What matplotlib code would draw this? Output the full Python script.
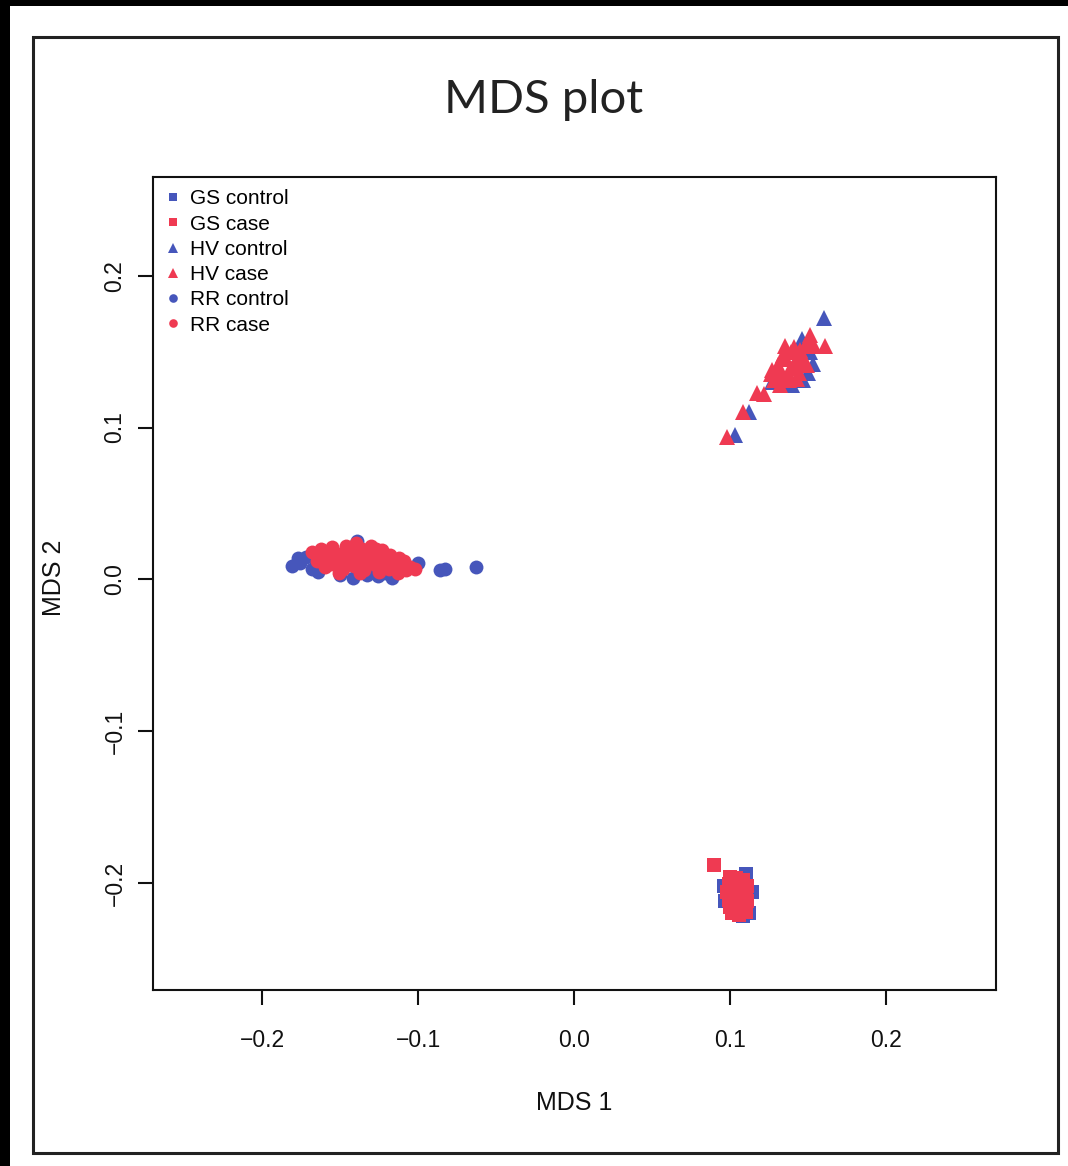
"""
MDS plot recreation (R-style base graphics look)
"""
import matplotlib
matplotlib.use('Agg')
import matplotlib.pyplot as plt
from matplotlib.patches import Rectangle

# ------------------------------ data --------------------------------------#
gs_control_x = [0.110, 0.114, 0.096, 0.108, 0.112, 0.097]
gs_control_y = [-0.194, -0.206, -0.202, -0.222, -0.220, -0.212]

gs_case_x = [0.090, 0.100, 0.104, 0.108, 0.099, 0.103, 0.107, 0.111, 0.098,
             0.102, 0.106, 0.110, 0.099, 0.103, 0.107, 0.111, 0.100, 0.104,
             0.108, 0.101, 0.106, 0.110, 0.105, 0.102]
gs_case_y = [-0.188, -0.196, -0.197, -0.198, -0.201, -0.202, -0.203, -0.202,
             -0.206, -0.207, -0.208, -0.207, -0.211, -0.212, -0.213, -0.212,
             -0.216, -0.217, -0.218, -0.220, -0.221, -0.219, -0.205, -0.214]

hv_control_x = [0.103, 0.112, 0.160, 0.151, 0.153, 0.150, 0.147, 0.140,
                0.133, 0.127, 0.146, 0.144]
hv_control_y = [0.095, 0.110, 0.172, 0.150, 0.142, 0.136, 0.131, 0.128,
                0.128, 0.130, 0.158, 0.148]

hv_case_x = [0.098, 0.108, 0.117, 0.122, 0.127, 0.131, 0.134, 0.137, 0.142,
             0.145, 0.148, 0.151, 0.154, 0.161, 0.138, 0.144, 0.135, 0.128,
             0.147, 0.141, 0.132, 0.130, 0.136, 0.140, 0.146, 0.150, 0.139,
             0.133, 0.143, 0.149, 0.126]
hv_case_y = [0.094, 0.110, 0.123, 0.122, 0.138, 0.141, 0.148, 0.136, 0.144,
             0.151, 0.154, 0.161, 0.154, 0.154, 0.131, 0.136, 0.154, 0.131,
             0.143, 0.153, 0.128, 0.136, 0.145, 0.139, 0.147, 0.156, 0.150,
             0.133, 0.132, 0.141, 0.135]

rr_control_x = [-0.181, -0.177, -0.172, -0.168, -0.164, -0.139, -0.150,
                -0.142, -0.133, -0.126, -0.121, -0.117, -0.113, -0.108,
                -0.100, -0.086, -0.083, -0.063, -0.160, -0.176]
rr_control_y = [0.009, 0.014, 0.015, 0.007, 0.005, 0.025, 0.003, 0.001,
                0.003, 0.002, 0.004, 0.001, 0.006, 0.009, 0.011, 0.006,
                0.007, 0.008, 0.017, 0.011]

rr_case_x = [-0.168, -0.165, -0.162, -0.160, -0.158, -0.155, -0.153, -0.150,
             -0.148, -0.146, -0.145, -0.143, -0.141, -0.140, -0.138, -0.136,
             -0.135, -0.133, -0.131, -0.130, -0.128, -0.126, -0.125, -0.123,
             -0.121, -0.119, -0.117, -0.115, -0.113, -0.111, -0.108, -0.105,
             -0.102, -0.163, -0.151, -0.147, -0.139, -0.134, -0.127, -0.122,
             -0.118, -0.156, -0.142, -0.137, -0.129, -0.112, -0.109]
rr_case_y = [0.018, 0.012, 0.020, 0.008, 0.015, 0.021, 0.011, 0.017, 0.007,
             0.022, 0.013, 0.019, 0.009, 0.024, 0.015, 0.020, 0.006, 0.012,
             0.018, 0.022, 0.010, 0.015, 0.005, 0.019, 0.011, 0.007, 0.013,
             0.009, 0.004, 0.010, 0.006, 0.008, 0.007, 0.016, 0.004, 0.012,
             0.011, 0.016, 0.020, 0.008, 0.016, 0.010, 0.014, 0.004, 0.013,
             0.014, 0.012]

ticks = [-0.2, -0.1, 0.0, 0.1, 0.2]
tick_labels = ['\u22120.2', '\u22120.1', '0.0', '0.1', '0.2']

# ------------------------------ style -------------------------------------#
blue = '#4656bb'
red = '#ef3a52'
W, H = 1068, 1166

plt.rcParams['font.family'] = ['Liberation Sans', 'DejaVu Sans']

fig = plt.figure(figsize=(W / 100, H / 100), dpi=100, facecolor='black')

# white page + outer frame
fig.patches.append(Rectangle((10 / W, 0), 1, 1 - 6 / H, transform=fig.transFigure,
                             facecolor='white', edgecolor='none', zorder=0))
fig.patches.append(Rectangle((33 / W, 1 - 1153 / H), (1058 - 33) / W, (1153 - 37) / H,
                             transform=fig.transFigure, facecolor='none',
                             edgecolor='#222222', linewidth=2.2, zorder=1))

ax = fig.add_axes([153 / W, 1 - 990 / H, (996 - 153) / W, (990 - 177) / H])
ax.set_zorder(5)
ax.set_facecolor('white')

ms_sq, ms_tri, ms_circ = 9.5, 11.5, 10
ax.plot(gs_control_x, gs_control_y, 's', color=blue, ms=ms_sq, mew=0, label='GS control')
ax.plot(gs_case_x, gs_case_y, 's', color=red, ms=ms_sq, mew=0, label='GS case')
ax.plot(hv_control_x, hv_control_y, '^', color=blue, ms=ms_tri, mew=0, label='HV control')
ax.plot(hv_case_x, hv_case_y, '^', color=red, ms=ms_tri, mew=0, label='HV case')
ax.plot(rr_control_x, rr_control_y, 'o', color=blue, ms=ms_circ, mew=0, label='RR control')
ax.plot(rr_case_x, rr_case_y, 'o', color=red, ms=ms_circ, mew=0, label='RR case')

ax.set_xlim(-0.270, 0.2705)
ax.set_ylim(-0.2705, 0.265)
ax.set_xticks(ticks)
ax.set_xticklabels(tick_labels)
ax.set_yticks(ticks)
ax.set_yticklabels(tick_labels)

for sp in ax.spines.values():
    sp.set_linewidth(1.5)
    sp.set_color('#111111')
ax.tick_params(axis='both', direction='out', length=11, width=1.5, labelsize=16.5,
               colors='#111111')
ax.tick_params(axis='x', pad=17)
ax.tick_params(axis='y', pad=8)
for lbl in ax.get_yticklabels():
    lbl.set_rotation(90)
    lbl.set_va('center')
    lbl.set_ha('right')

leg = ax.legend(loc='upper left', bbox_to_anchor=(0.004, 0.995), frameon=False,
                fontsize=15, markerscale=0.62, handlelength=0.8, handletextpad=0.4,
                labelspacing=0.3, borderaxespad=0.0)

fig.text(544 / W, 1 - 113 / H, 'MDS plot', family=['Lato', 'DejaVu Sans'],
         fontsize=34, ha='center', va='baseline', color='#222222')
fig.text(574 / W, 1 - 1110 / H, 'MDS 1', fontsize=18, ha='center', va='baseline',
         color='#111111')
fig.text(54 / W, 1 - 578 / H, 'MDS 2', fontsize=18, ha='center', va='center',
         rotation=90, color='#111111')

fig.savefig('out.png', dpi=100, facecolor=fig.get_facecolor())
